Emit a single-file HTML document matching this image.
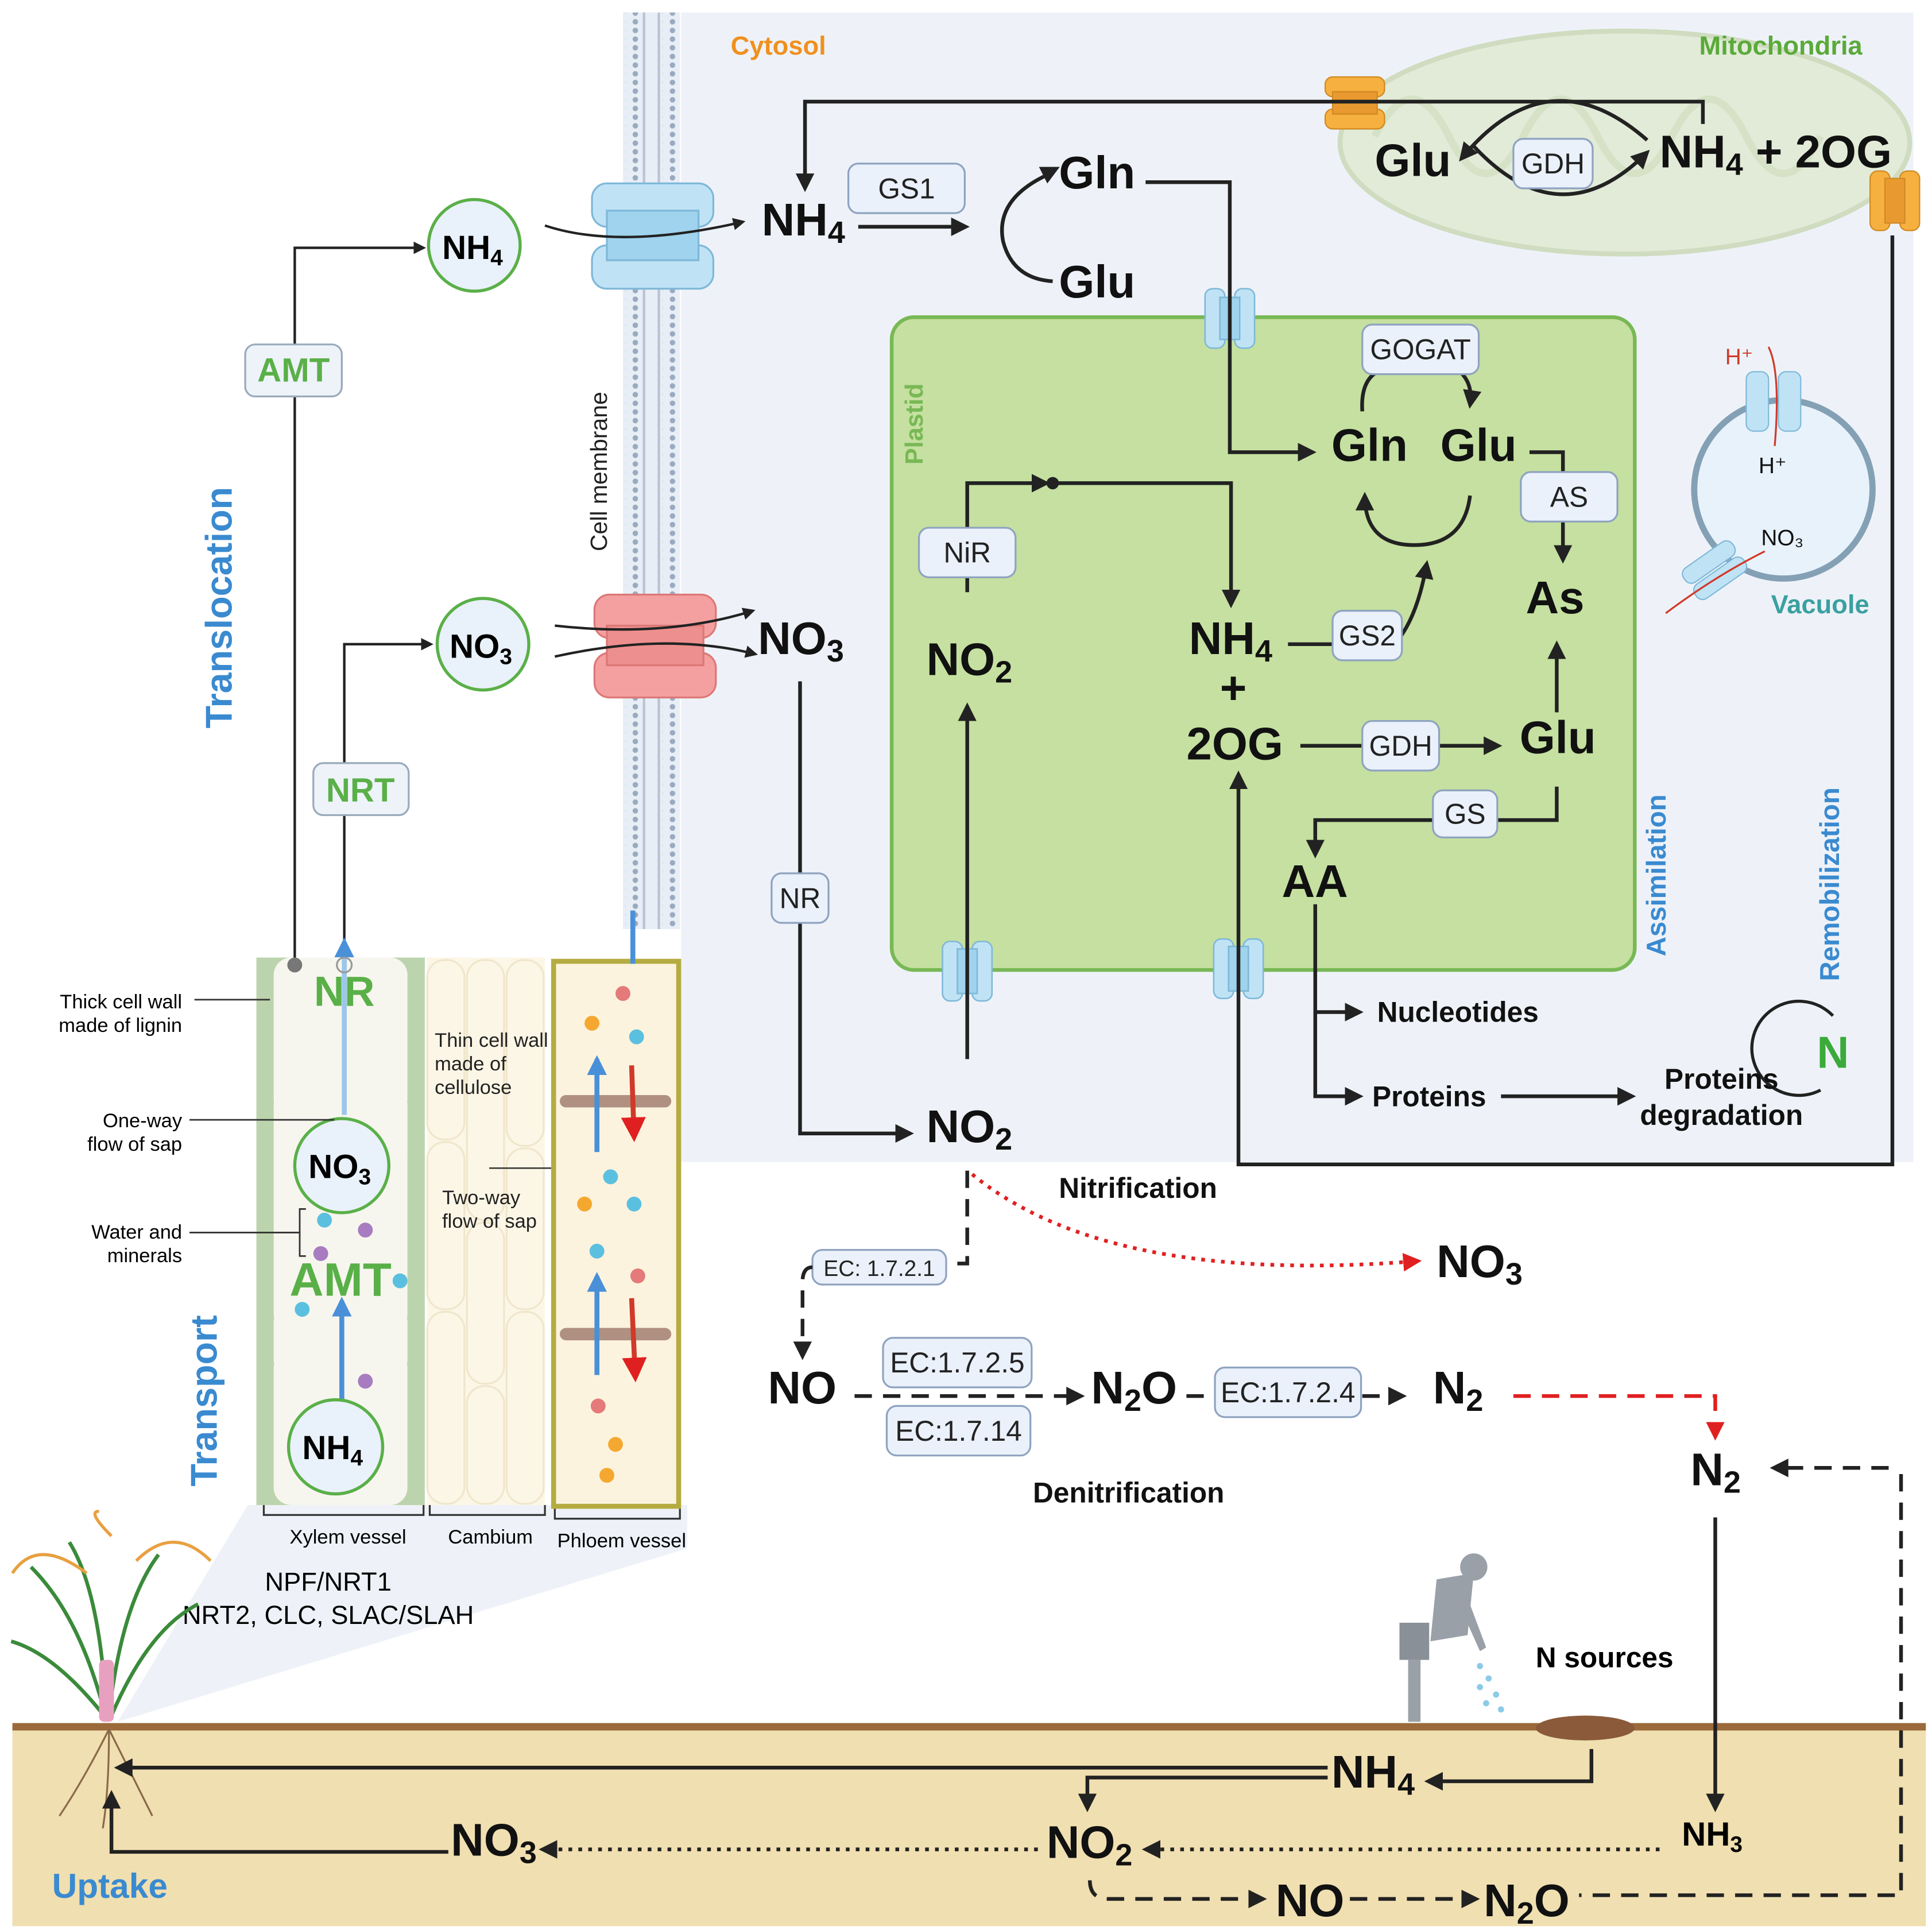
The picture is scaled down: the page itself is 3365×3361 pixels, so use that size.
<!DOCTYPE html>
<html><head><meta charset="utf-8"><style>
html,body{margin:0;padding:0;background:#fff}
svg{display:block}
text{font-family:"Liberation Sans",Arial,sans-serif}
.b{font-weight:bold}
</style></head><body>
<svg width="3365" height="3361" viewBox="0 0 1560 1558" xmlns="http://www.w3.org/2000/svg">
<defs>
<marker id="a" viewBox="0 0 10 10" refX="8" refY="5" markerWidth="5" markerHeight="5" orient="auto"><path d="M0,0L10,5L0,10z" fill="#222"/></marker>
<marker id="r" viewBox="0 0 10 10" refX="8" refY="5" markerWidth="5" markerHeight="5" orient="auto"><path d="M0,0L10,5L0,10z" fill="#e02020"/></marker>
<marker id="bl" viewBox="0 0 10 10" refX="8" refY="5" markerWidth="4" markerHeight="4" orient="auto"><path d="M0,0L10,5L0,10z" fill="#4a90d9"/></marker>
<pattern id="mem" width="10" height="7" patternUnits="userSpaceOnUse"><rect width="10" height="7" fill="#e8eef6"/><circle cx="3" cy="3.5" r="2.2" fill="#9aaac0"/></pattern>
</defs>

<!-- wedge from plant to diagram (behind) -->
<path d="M95,1390 L200,1215 L555,1215 L555,1250 L95,1390z" fill="#eef2f8"/>

<!-- cytosol background -->
<rect x="550" y="10" width="995" height="928" fill="#eef2f8"/>
<!-- membrane -->
<rect x="503" y="10" width="46" height="740" fill="#e8eef6"/>
<rect x="505" y="10" width="12" height="740" fill="url(#mem)"/>
<rect x="535" y="10" width="12" height="740" fill="url(#mem)"/>
<line x1="520" y1="10" x2="520" y2="750" stroke="#b8c4d4" stroke-width="2"/>
<line x1="532" y1="10" x2="532" y2="750" stroke="#b8c4d4" stroke-width="2"/>
<text font-size="19" fill="#222" transform="translate(490,445) rotate(-90)">Cell membrane</text>

<text x="590" y="44" font-size="21" fill="#f0901e" class="b">Cytosol</text>
<!-- mitochondria -->
<ellipse cx="1312" cy="115" rx="230" ry="90" fill="#e2ebd8" stroke="#cfdcc0" stroke-width="4"/>
<path d="M1110,110 q30,-60 60,0 q30,60 60,0 q30,-60 60,0 q30,60 60,0 q30,-60 60,0 q30,60 60,0" fill="none" stroke="#d5e2c6" stroke-width="6"/>
<text x="1372" y="44" font-size="21" fill="#5aaa3a" class="b">Mitochondria</text>

<!-- transporters -->
<g fill="#bfe3f5" stroke="#7fb8d8" stroke-width="1.5">
 <rect x="478" y="148" width="98" height="35" rx="12"/>
 <rect x="478" y="198" width="98" height="35" rx="12"/>
 <rect x="490" y="170" width="74" height="40" fill="#9fd3ee"/>
</g>
<g fill="#f4a0a0" stroke="#d77" stroke-width="1.5">
 <rect x="480" y="480" width="98" height="35" rx="12"/>
 <rect x="480" y="527" width="98" height="36" rx="12"/>
 <rect x="490" y="505" width="78" height="32" fill="#ee8f8f"/>
</g>
<g fill="#f5b040" stroke="#d08820" stroke-width="1">
 <rect x="1070" y="62" width="48" height="16" rx="6"/><rect x="1070" y="88" width="48" height="16" rx="6"/><rect x="1076" y="74" width="36" height="18" fill="#e89a30"/>
 <rect x="1510" y="138" width="16" height="48" rx="6"/><rect x="1534" y="138" width="16" height="48" rx="6"/><rect x="1522" y="144" width="16" height="36" fill="#e89a30"/>
</g>

<!-- plastid -->
<rect x="720" y="256" width="600" height="527" rx="18" fill="#c5e0a0" stroke="#78b855" stroke-width="3"/>
<text font-size="20" fill="#78b855" class="b" transform="translate(745,375) rotate(-90)">Plastid</text>
<g fill="#bfe3f5" stroke="#7fb8d8" stroke-width="1.2">
 <rect x="973" y="233" width="16" height="48" rx="6"/><rect x="997" y="233" width="16" height="48" rx="6"/><rect x="985" y="240" width="16" height="34" fill="#9fd3ee"/>
 <rect x="761" y="760" width="16" height="48" rx="6"/><rect x="785" y="760" width="16" height="48" rx="6"/><rect x="773" y="766" width="16" height="36" fill="#9fd3ee"/>
 <rect x="980" y="758" width="16" height="48" rx="6"/><rect x="1004" y="758" width="16" height="48" rx="6"/><rect x="992" y="764" width="16" height="36" fill="#9fd3ee"/>
</g>

<!-- vacuole -->
<circle cx="1440" cy="395" r="72" fill="#e8f2fb" stroke="#84a0b4" stroke-width="5"/>
<g fill="#bfe3f5" stroke="#7fb8d8" stroke-width="1">
 <rect x="1410" y="300" width="18" height="48" rx="6"/><rect x="1436" y="300" width="18" height="48" rx="6"/>
 <g transform="rotate(-35 1383 460)"><rect x="1360" y="446" width="48" height="14" rx="6"/><rect x="1360" y="462" width="48" height="14" rx="6"/></g>
</g>
<text x="1393" y="294" font-size="18" fill="#d03a2a">H⁺</text>
<text x="1420" y="382" font-size="18" fill="#111">H⁺</text>
<text x="1422" y="440" font-size="18" fill="#111">NO₃</text>
<text x="1430" y="495" font-size="21" fill="#3aa0a0" class="b">Vacuole</text>
<path d="M1428,280 q10,20 5,80" stroke="#d03a2a" stroke-width="1.5" fill="none"/>
<path d="M1345,495 q40,-30 80,-50" stroke="#d03a2a" stroke-width="1.5" fill="none"/>

<!-- labels -->
<text font-size="30" fill="#3a8ad0" class="b" transform="translate(187,588) rotate(-90)">Translocation</text>
<text font-size="30" fill="#3a8ad0" class="b" transform="translate(175,1200) rotate(-90)">Transport</text>
<text font-size="22" fill="#3a8ad0" class="b" transform="translate(1345,772) rotate(-90)">Assimilation</text>
<text font-size="22" fill="#3a8ad0" class="b" transform="translate(1485,792) rotate(-90)">Remobilization</text>

<!-- left translocation -->
<g fill="none" stroke="#222" stroke-width="2">
 <path d="M238,778 V200 H342" marker-end="url(#a)"/>
 <path d="M278,778 V520 H348" marker-end="url(#a)"/>
</g>
<circle cx="383" cy="198" r="37" fill="#e9f1fa" stroke="#5ab048" stroke-width="2.5"/>
<text x="357" y="209" font-size="27" class="b">NH<tspan font-size="18" dy="5">4</tspan></text>
<circle cx="390" cy="520" r="37" fill="#e9f1fa" stroke="#5ab048" stroke-width="2.5"/>
<text x="363" y="531" font-size="27" class="b">NO<tspan font-size="18" dy="5">3</tspan></text>
<rect x="198" y="278" width="78" height="42" rx="8" fill="#eef3fa" stroke="#9ab" stroke-width="1.5"/>
<text x="237" y="308" font-size="27" fill="#5ab048" class="b" text-anchor="middle">AMT</text>
<rect x="253" y="616" width="77" height="42" rx="8" fill="#eef3fa" stroke="#9ab" stroke-width="1.5"/>
<text x="291" y="647" font-size="27" fill="#5ab048" class="b" text-anchor="middle">NRT</text>

<!-- xylem -->
<rect x="207" y="773" width="136" height="442" fill="#bcd4ad"/>
<rect x="221" y="773" width="108" height="128" rx="14" fill="#f6f6ee"/>
<rect x="221" y="915" width="108" height="160" rx="14" fill="#f6f6ee"/>
<rect x="221" y="1090" width="108" height="125" rx="14" fill="#f6f6ee"/>
<rect x="221" y="890" width="108" height="40" fill="#f6f6ee"/>
<rect x="221" y="1065" width="108" height="35" fill="#f6f6ee"/>
<line x1="278" y1="900" x2="278" y2="760" stroke="#9cc6ea" stroke-width="4" marker-end="url(#bl)"/>
<line x1="276" y1="1145" x2="276" y2="1050" stroke="#4a90d9" stroke-width="4" marker-end="url(#bl)"/>
<circle cx="238" cy="779" r="6" fill="#777"/>
<circle cx="278" cy="779" r="6" fill="none" stroke="#999" stroke-width="1.5"/>
<text x="278" y="812" font-size="34" fill="#5ab048" class="b" text-anchor="middle">NR</text>
<text x="275" y="1046" font-size="38" fill="#5ab048" class="b" text-anchor="middle">AMT</text>
<circle cx="276" cy="941" r="38" fill="#e9f1fa" stroke="#5ab048" stroke-width="2.5"/>
<text x="249" y="951" font-size="27" class="b">NO<tspan font-size="18" dy="5">3</tspan></text>
<circle cx="271" cy="1168" r="38" fill="#e9f1fa" stroke="#5ab048" stroke-width="2.5"/>
<text x="244" y="1178" font-size="27" class="b">NH<tspan font-size="18" dy="5">4</tspan></text>
<g fill="#5bc0e0"><circle cx="262" cy="985" r="6"/><circle cx="323" cy="1034" r="6"/><circle cx="244" cy="1057" r="6"/></g>
<g fill="#a87cc0"><circle cx="295" cy="993" r="6"/><circle cx="259" cy="1012" r="6"/><circle cx="295" cy="1115" r="6"/></g>
<!-- cambium -->
<rect x="345" y="773" width="95" height="442" fill="#fcf6e6"/>
<g fill="none" stroke="#f0e6cc" stroke-width="1.5">
 <rect x="345" y="775" width="30" height="145" rx="14"/><rect x="377" y="775" width="30" height="210" rx="14"/><rect x="409" y="775" width="30" height="150" rx="14"/>
 <rect x="345" y="922" width="30" height="135" rx="14"/><rect x="377" y="987" width="30" height="130" rx="14"/><rect x="409" y="927" width="30" height="130" rx="14"/>
 <rect x="345" y="1059" width="30" height="155" rx="14"/><rect x="377" y="1119" width="30" height="95" rx="14"/><rect x="409" y="1059" width="30" height="155" rx="14"/>
</g>
<text font-size="16" fill="#222"><tspan x="351" y="845">Thin cell wall</tspan><tspan x="351" y="864">made of</tspan><tspan x="351" y="883">cellulose</tspan></text>
<text font-size="16" fill="#222"><tspan x="357" y="972">Two-way</tspan><tspan x="357" y="991">flow of sap</tspan></text>
<line x1="395" y1="943" x2="490" y2="943" stroke="#333" stroke-width="1.2"/>
<!-- phloem -->
<rect x="447" y="776" width="101" height="440" fill="#fcf3de" stroke="#b4ac40" stroke-width="4"/>
<rect x="452" y="884" width="90" height="10" rx="5" fill="#b09080"/>
<rect x="452" y="1072" width="90" height="10" rx="5" fill="#b09080"/>
<line x1="482" y1="930" x2="482" y2="855" stroke="#4a90d9" stroke-width="4" marker-end="url(#bl)"/>
<line x1="510" y1="860" x2="512" y2="918" stroke="#d03a2a" stroke-width="4" marker-end="url(#r)"/>
<line x1="482" y1="1110" x2="482" y2="1030" stroke="#4a90d9" stroke-width="4" marker-end="url(#bl)"/>
<line x1="510" y1="1048" x2="513" y2="1112" stroke="#d03a2a" stroke-width="4" marker-end="url(#r)"/>
<g fill="#e47a7a"><circle cx="503" cy="802" r="6"/><circle cx="515" cy="1030" r="6"/><circle cx="483" cy="1135" r="6"/></g>
<g fill="#f5a830"><circle cx="478" cy="826" r="6"/><circle cx="472" cy="972" r="6"/><circle cx="497" cy="1166" r="6"/><circle cx="490" cy="1191" r="6"/></g>
<g fill="#5bc0e0"><circle cx="514" cy="837" r="6"/><circle cx="493" cy="950" r="6"/><circle cx="512" cy="972" r="6"/><circle cx="482" cy="1010" r="6"/></g>
<line x1="511" y1="778" x2="511" y2="735" stroke="#4a90d9" stroke-width="4"/>
<!-- brackets -->
<path d="M213,1215 v8 h129 v-8 M347,1215 v8 h93 v-8 M448,1218 v8 h101 v-8" fill="none" stroke="#333" stroke-width="1.5"/>
<text x="281" y="1246" font-size="16" text-anchor="middle">Xylem vessel</text>
<text x="396" y="1246" font-size="16" text-anchor="middle">Cambium</text>
<text x="502" y="1249" font-size="16" text-anchor="middle">Phloem vessel</text>
<text font-size="16" text-anchor="end"><tspan x="147" y="814">Thick cell wall</tspan><tspan x="147" y="833">made of lignin</tspan></text>
<text font-size="16" text-anchor="end"><tspan x="147" y="910">One-way</tspan><tspan x="147" y="929">flow of sap</tspan></text>
<text font-size="16" text-anchor="end"><tspan x="147" y="1000">Water and</tspan><tspan x="147" y="1019">minerals</tspan></text>
<g stroke="#333" stroke-width="1.3" fill="none"><path d="M157,807 H218"/><path d="M153,904 H270"/><path d="M153,995 H242 M247,976 h-5 v38 h5"/></g>

<text x="265" y="1284" font-size="21" text-anchor="middle">NPF/NRT1</text>
<text x="265" y="1311" font-size="21" text-anchor="middle">NRT2, CLC, SLAC/SLAH</text>

<!-- soil -->
<rect x="10" y="1393" width="1545" height="162" fill="#f0dfb0"/>
<rect x="10" y="1391" width="1545" height="6" fill="#9a6a3a"/>
<!-- plant -->
<g stroke="#3a8a3a" stroke-width="3" fill="none">
 <path d="M85,1385 q-20,-80 -60,-120"/><path d="M88,1385 q10,-90 40,-130"/><path d="M86,1385 q-5,-100 -30,-140"/><path d="M90,1385 q30,-70 70,-90"/><path d="M84,1385 q-40,-50 -75,-60"/>
</g>
<g stroke="#e8a040" stroke-width="2.5" fill="none"><path d="M70,1270 q-40,-30 -60,0"/><path d="M110,1260 q30,-30 60,0"/><path d="M90,1240 q-20,-20 -10,-20"/></g>
<rect x="80" y="1340" width="12" height="50" rx="4" fill="#e8a0c0"/>
<g stroke="#8a6a4a" stroke-width="1.5" fill="none"><path d="M88,1396 q-20,40 -40,70"/><path d="M88,1396 q0,50 -5,80"/><path d="M88,1396 q20,40 35,70"/></g>
<text x="42" y="1532" font-size="28" fill="#3a8ad0" class="b">Uptake</text>
<!-- person -->
<g fill="#9aa0a8"><circle cx="1190" cy="1265" r="11"/><path d="M1160,1275 l30,-5 l-5,50 l-30,5z"/><rect x="1130" y="1310" width="24" height="30" fill="#8a9098"/><rect x="1137" y="1340" width="10" height="50"/><path d="M1185,1290 l15,40 l-5,3 l-17,-38z"/></g>
<g fill="#8ccbe8"><circle cx="1195" cy="1345" r="2.5"/><circle cx="1202" cy="1355" r="2.5"/><circle cx="1208" cy="1368" r="2.5"/><circle cx="1195" cy="1362" r="2.5"/><circle cx="1212" cy="1380" r="2.5"/><circle cx="1200" cy="1375" r="2.5"/></g>
<ellipse cx="1280" cy="1395" rx="40" ry="10" fill="#8a5a3a"/>
<text x="1240" y="1346" font-size="23" class="b">N sources</text>

<!-- cytosol arrows -->
<g fill="none" stroke="#222" stroke-width="3">
 <path d="M1375,100 V82 H650 V152" marker-end="url(#a)"/>
 <path d="M693,183 H780" marker-end="url(#a)"/>
 <path d="M440,182 q60,20 160,-3" stroke-width="2" marker-end="url(#a)"/>
 <path d="M448,505 q90,10 160,-12" stroke-width="2" marker-end="url(#a)"/>
 <path d="M448,530 q90,-20 162,-2" stroke-width="2" marker-end="url(#a)"/>
 <path d="M848,140 q-45,20 -38,55 q8,30 40,32"/>
 <path d="M845,140 l8,-4" marker-end="url(#a)"/>
 <path d="M925,147 H993 V365 H1060" marker-end="url(#a)"/>
 <path d="M1330,113 q-80,-70 -150,15" marker-end="url(#a)"/>
 <path d="M1190,118 q70,75 140,5" marker-end="url(#a)"/>
 <path d="M1528,190 V940 H1000 V625" marker-end="url(#a)"/>
 <path d="M646,550 V915 H735" marker-end="url(#a)"/>
 <path d="M781,855 V570" marker-end="url(#a)"/>
 <path d="M781,478 V390 H845" marker-end="url(#a)"/>
 <path d="M850,390 H994 V488" marker-end="url(#a)"/>
 <path d="M1100,332 q-2,-30 20,-35 M1175,297 q15,10 12,30" marker-end="url(#a)"/>
 <path d="M1187,400 q-5,40 -45,40 q-40,0 -40,-40" marker-end="url(#a)"/>
 <path d="M1235,365 H1262 V452" marker-end="url(#a)"/>
 <path d="M1040,520 H1080"/>
 <path d="M1130,515 q15,-20 22,-60" marker-end="url(#a)"/>
 <path d="M1050,602 H1210" marker-end="url(#a)"/>
 <path d="M1257,575 V520" marker-end="url(#a)"/>
 <path d="M1257,635 V662 H1062 V690" marker-end="url(#a)"/>
 <path d="M1062,730 V885 H1098" marker-end="url(#a)"/>
 <path d="M1062,817 H1098" marker-end="url(#a)"/>
 <path d="M1212,885 H1318" marker-end="url(#a)"/>
 <path d="M1470,880 a38,38 0 1 1 10,-60" stroke-width="2.5"/>
</g>
<circle cx="850" cy="390" r="5" fill="#222"/>
<!-- enzyme boxes -->
<g fill="#eaf1fb" stroke="#8fa3c0" stroke-width="1.5">
 <rect x="685" y="132" width="94" height="40" rx="8"/>
 <rect x="1222" y="112" width="64" height="40" rx="8"/>
 <rect x="1100" y="262" width="94" height="40" rx="8"/>
 <rect x="1228" y="381" width="78" height="40" rx="8"/>
 <rect x="742" y="426" width="78" height="40" rx="8"/>
 <rect x="1076" y="493" width="56" height="40" rx="8"/>
 <rect x="1100" y="582" width="62" height="40" rx="8"/>
 <rect x="1157" y="638" width="52" height="38" rx="8"/>
 <rect x="623" y="705" width="46" height="40" rx="8"/>
 <rect x="656" y="1009" width="108" height="28" rx="8"/>
 <rect x="713" y="1080" width="120" height="40" rx="8"/>
 <rect x="716" y="1135" width="116" height="40" rx="8"/>
 <rect x="981" y="1104" width="118" height="40" rx="8"/>
</g>
<g font-size="23" text-anchor="middle" fill="#222">
 <text x="732" y="160">GS1</text><text x="1254" y="140">GDH</text><text x="1147" y="290">GOGAT</text><text x="1267" y="409">AS</text>
 <text x="781" y="454">NiR</text><text x="1104" y="521">GS2</text><text x="1131" y="610">GDH</text><text x="1183" y="665">GS</text><text x="646" y="733">NR</text>
 <text x="710" y="1030" font-size="18">EC: 1.7.2.1</text><text x="773" y="1108">EC:1.7.2.5</text><text x="774" y="1163">EC:1.7.14</text><text x="1040" y="1132">EC:1.7.2.4</text>
</g>
<!-- metabolite labels -->
<g font-size="37" class="b" fill="#111">
 <text x="615" y="190">NH<tspan font-size="25" dy="6">4</tspan></text>
 <text x="855" y="152">Gln</text><text x="855" y="240">Glu</text>
 <text x="1110" y="142">Glu</text>
 <text x="1340" y="135">NH<tspan font-size="25" dy="6">4</tspan><tspan dy="-6"> + 2OG</tspan></text>
 <text x="1075" y="372">Gln</text><text x="1163" y="372">Glu</text>
 <text x="1232" y="495">As</text>
 <text x="748" y="545">NO<tspan font-size="25" dy="6">2</tspan></text>
 <text x="960" y="528">NH<tspan font-size="25" dy="6">4</tspan></text>
 <text x="985" y="568">+</text>
 <text x="958" y="613">2OG</text>
 <text x="1227" y="608">Glu</text>
 <text x="1035" y="724">AA</text>
 <text x="612" y="528">NO<tspan font-size="25" dy="6">3</tspan></text>
 <text x="748" y="922">NO<tspan font-size="25" dy="6">2</tspan></text>
 <text x="1160" y="1031">NO<tspan font-size="25" dy="6">3</tspan></text>
 <text x="620" y="1133">NO</text>
 <text x="881" y="1133">N<tspan font-size="25" dy="6">2</tspan><tspan dy="-6">O</tspan></text>
 <text x="1157" y="1133">N<tspan font-size="25" dy="6">2</tspan></text>
 <text x="1365" y="1199">N<tspan font-size="25" dy="6">2</tspan></text>
 <text x="1075" y="1443">NH<tspan font-size="25" dy="6">4</tspan></text>
 <text x="845" y="1500">NO<tspan font-size="25" dy="6">2</tspan></text>
 <text x="364" y="1498">NO<tspan font-size="25" dy="6">3</tspan></text>
 <text x="1030" y="1547">NO</text>
 <text x="1198" y="1547">N<tspan font-size="25" dy="6">2</tspan><tspan dy="-6">O</tspan></text>
</g>
<text x="1358" y="1490" font-size="27" class="b">NH<tspan font-size="18" dy="5">3</tspan></text>
<text x="1467" y="862" font-size="36" fill="#3aaa3a" class="b">N</text>
<g font-size="23" class="b" fill="#111">
 <text x="1112" y="825">Nucleotides</text><text x="1108" y="893">Proteins</text>
 <text x="1390" y="879" text-anchor="middle">Proteins</text><text x="1390" y="908" text-anchor="middle">degradation</text>
 <text x="855" y="967">Nitrification</text><text x="834" y="1213">Denitrification</text>
</g>
<!-- denitrification / soil arrows -->
<g fill="none" stroke="#222" stroke-width="3" stroke-dasharray="14,9">
 <path d="M781,945 V1020 H765"/>
 <path d="M656,1023 q-8,0 -8,12 V1095" marker-end="url(#a)"/>
 <path d="M690,1127 H873" marker-end="url(#a)"/>
 <path d="M958,1127 H975"/>
 <path d="M1100,1127 H1133" marker-end="url(#a)"/>
 <path d="M1525,1185 H1432" marker-end="url(#a)"/>
 <path d="M1535,1190 V1530 H1275"/>
 <path d="M880,1518 q0,15 15,15 H1020" marker-end="url(#a)"/>
 <path d="M1090,1533 H1192" marker-end="url(#a)"/>
</g>
<g fill="none" stroke="#222" stroke-width="3" stroke-dasharray="3,5">
 <path d="M1340,1493 H925" marker-end="url(#a)"/>
 <path d="M838,1493 H438" marker-end="url(#a)"/>
</g>
<g fill="none" stroke="#222" stroke-width="3">
 <path d="M1385,1225 V1460" marker-end="url(#a)"/>
 <path d="M1285,1412 V1438 H1153" marker-end="url(#a)"/>
 <path d="M1072,1427 H95" marker-end="url(#a)"/>
 <path d="M1072,1435 H878 V1460" marker-end="url(#a)"/>
 <path d="M362,1495 H90 V1448" marker-end="url(#a)"/>
</g>
<path d="M785,948 q110,90 360,70" fill="none" stroke="#e02020" stroke-width="3" stroke-dasharray="3,5" marker-end="url(#r)"/>
<path d="M1222,1127 H1385 V1160" fill="none" stroke="#e02020" stroke-width="3" stroke-dasharray="14,9" marker-end="url(#r)"/>
</svg>
</body></html>
